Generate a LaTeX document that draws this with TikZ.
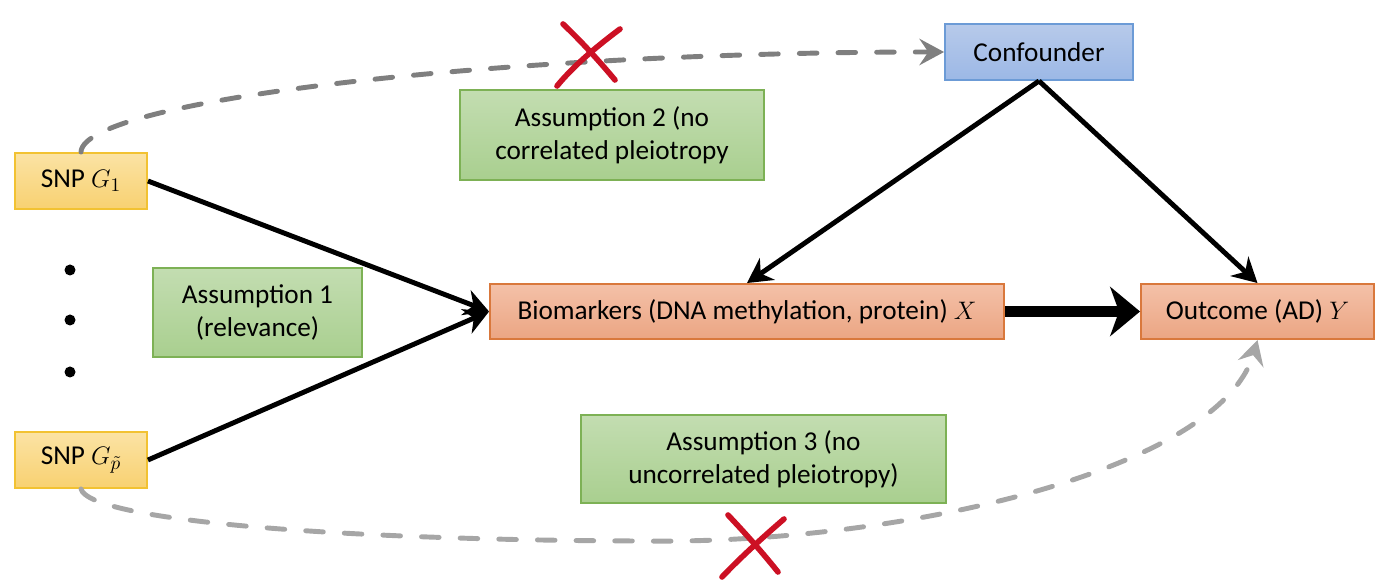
\documentclass[tikz,border=0pt]{standalone}
\usepackage{fontspec}
\setmainfont{Carlito}
\usetikzlibrary{arrows.meta}
\definecolor{ybord}{HTML}{F2C232}
\definecolor{ytop}{HTML}{FBE3A4}
\definecolor{ybot}{HTML}{F8D171}
\definecolor{gbord}{HTML}{7DB155}
\definecolor{gtop}{HTML}{C3DDB1}
\definecolor{gbot}{HTML}{A9CF8F}
\definecolor{bbord}{HTML}{6C9BD6}
\definecolor{btop}{HTML}{B7CAEA}
\definecolor{bbot}{HTML}{9CB8E6}
\definecolor{obord}{HTML}{D9783C}
\definecolor{otop}{HTML}{F4C1A8}
\definecolor{obot}{HTML}{EBA583}
\definecolor{dgray}{HTML}{7F7F7F}
\definecolor{lgray}{HTML}{A6A6A6}
\definecolor{xred}{HTML}{CC1024}
\tikzset{
  box/.style={rectangle, line width=1.1pt, inner sep=0pt, align=center,
    font=\fontsize{15.5}{19}\selectfont},
  snpbox/.style={box, draw=ybord, top color=ytop, bottom color=ybot,
    minimum width=2.64cm, minimum height=1.12cm},
  asbox/.style={box, draw=gbord, top color=gtop, bottom color=gbot,
    minimum height=1.78cm},
  confbox/.style={box, draw=bbord, top color=btop, bottom color=bbot,
    minimum width=3.76cm, minimum height=1.12cm},
  orbox/.style={box, draw=obord, top color=otop, bottom color=obot,
    minimum height=1.1cm},
  causal/.style={line width=2.8pt, -{Stealth[length=14pt, width=15pt, inset=4.5pt]}},
  bigarrow/.style={line width=6.8pt, -{Stealth[length=17pt, width=28pt, inset=5pt]}},
  pleio/.style={line width=2.8pt, dash pattern=on 10pt off 12pt, line cap=round,
    -{Stealth[length=14pt, width=15pt, inset=5pt, line cap=butt]}},
  redx/.style={draw=xred, line width=3.2pt, line cap=round},
}
\begin{document}
\begin{tikzpicture}[x=0.02cm, y=-0.02cm]
\useasboundingbox (0,0) rectangle (1400,587);

\node[snpbox] (g1) at (81,181) {SNP $G_1$};
\node[snpbox] (gp) at (81,460) {SNP $G_{\tilde p}$};

\fill (70,270) circle (5.5);
\fill (70,320) circle (5.5);
\fill (70,372) circle (5.5);

\node[asbox, minimum width=4.18cm] (a1) at (257.5,312.5) {Assumption 1\\(relevance)};
\node[asbox, minimum width=6.08cm, minimum height=1.8cm] (a2) at (612,135) {Assumption 2 (no\\correlated pleiotropy};
\node[asbox, minimum width=7.3cm, minimum height=1.76cm] (a3) at (763.5,459) {Assumption 3 (no\\uncorrelated pleiotropy)};

\node[confbox] (conf) at (1039,52) {Confounder};
\node[orbox, minimum width=10.28cm] (bio) at (747,311.5) {Biomarkers (DNA methylation, protein) $X$};
\node[orbox, minimum width=4.66cm] (out) at (1257.5,311.5) {Outcome (AD) $Y$};

\draw[causal] (g1.east) -- (bio.west);
\draw[causal] (gp.east) -- (bio.west);
\draw[causal] (conf.south) -- (bio.north);
\draw[causal] (conf.south) -- (out.north);
\draw[bigarrow] (bio.east) -- (out.west);

\draw[pleio, dgray] (g1.north) .. controls (83,100) and (500,52) .. (conf.west);
\draw[pleio, lgray] (gp.south) .. controls (90,520) and (330,540) .. (640,541)
   .. controls (900,545) and (1220,470) .. (out.south);

% red crosses
\draw[redx] (563,24) .. controls (582,42) and (600,62) .. (615,80);
\draw[redx] (620,29) .. controls (600,44) and (575,64) .. (557,86);
\draw[redx] (728,515) .. controls (745,533) and (762,552) .. (778,572);
\draw[redx] (784,519) .. controls (762,538) and (740,558) .. (722,577);
\end{tikzpicture}
\end{document}
